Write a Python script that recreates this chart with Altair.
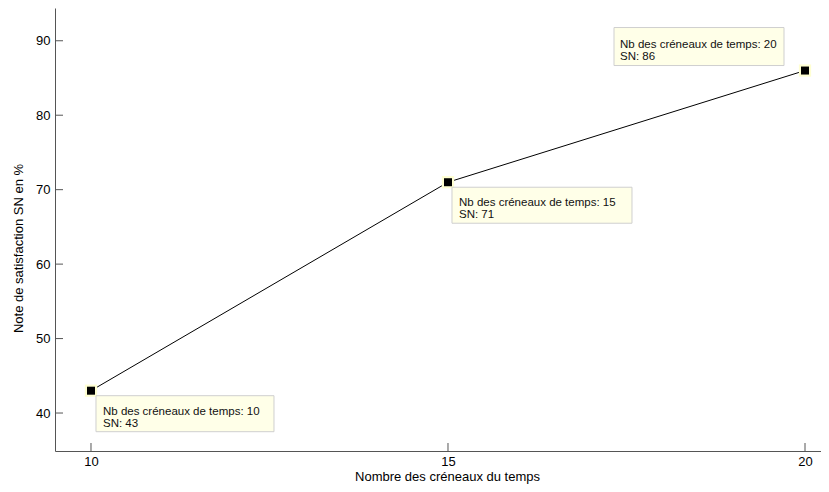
import altair as alt
import pandas as pd

# ---- data ----
slots = [10, 15, 20]          # Nombre des créneaux du temps
sn = [43, 71, 86]             # Note de satisfaction SN en %
x_ticks = [10, 15, 20]
y_ticks = [40, 50, 60, 70, 80, 90]
line1_prefix = "Nb des créneaux de temps: "
line2_prefix = "SN: "

W, H = 766, 443
FONT = "Liberation Sans"
AXIS_COLOR = "#555555"

df = pd.DataFrame({
    "x": slots,
    "y": sn,
    "label": [f"{line1_prefix}{s}\n{line2_prefix}{v}" for s, v in zip(slots, sn)],
})
xt = pd.DataFrame({"t": x_ticks})
yt = pd.DataFrame({"t": y_ticks})

xs = alt.Scale(domain=[9.496, 20.224], nice=False, zero=False)
ys = alt.Scale(domain=[34.9, 94.4], nice=False, zero=False)

X = alt.X("x:Q", scale=xs, axis=alt.Axis(
    title="Nombre des créneaux du temps", values=x_ticks, format="d",
    titleX=392, titleY=25, titleBaseline="middle"))
Y = alt.Y("y:Q", scale=ys, axis=alt.Axis(
    title="Note de satisfaction SN en %", values=y_ticks, format="d",
    titleX=-37, titleY=240, titleBaseline="middle", titleAngle=270))

base = alt.Chart(df)

line = base.mark_line(color="black", strokeWidth=1).encode(x=X, y=Y)
halo = base.mark_square(size=150, color="#FFFFD2", opacity=1).encode(x=X, y=Y)
pts = base.mark_square(size=64, color="black", opacity=1).encode(x=X, y=Y)

# annotation placement per point (pixel offsets from the point)
placements = {
    10: dict(bx=(5, 183), by=(5, 41), tx=12),
    15: dict(bx=(4, 184), by=(5, 41), tx=11),
    20: dict(bx=(-191, -21), by=(-43, -5), tx=-185),
}

ann_layers = []
for s, p in placements.items():
    sub = base.transform_filter(alt.datum.x == s)
    rect = sub.mark_rect(
        fill="#FFFFE8", stroke="#CFCFCF", strokeWidth=1,
        xOffset=p["bx"][0], x2Offset=p["bx"][1],
        yOffset=p["by"][0], y2Offset=p["by"][1],
    ).encode(
        x=alt.X("x:Q", scale=xs), x2="x:Q",
        y=alt.Y("y:Q", scale=ys), y2="y:Q",
    )
    cy = (p["by"][0] + p["by"][1]) / 2 - 2
    txt = sub.mark_text(
        align="left", baseline="middle", dx=p["tx"], dy=cy,
        lineBreak="\n", fontSize=11.5, lineHeight=12, font=FONT, color="#111111",
    ).encode(x=alt.X("x:Q", scale=xs), y=alt.Y("y:Q", scale=ys), text="label:N")
    ann_layers += [rect, txt]

xticks = alt.Chart(xt).mark_rule(color=AXIS_COLOR, strokeWidth=1).encode(
    x=alt.X("t:Q", scale=xs), y=alt.value(H), y2=alt.value(H - 8))
yticks = alt.Chart(yt).mark_rule(color=AXIS_COLOR, strokeWidth=1).encode(
    y=alt.Y("t:Q", scale=ys), x=alt.value(0), x2=alt.value(8))

chart = alt.layer(line, xticks, yticks, halo, pts, *ann_layers).properties(
    width=W, height=H,
    autosize=alt.AutoSizeParams(type="none"),
    padding={"left": 47, "top": 0, "right": 0, "bottom": 33},
).configure_view(stroke=None).configure_axis(
    grid=False, ticks=False, domainColor=AXIS_COLOR, domainWidth=1,
    labelFont=FONT, labelFontSize=13, labelColor="#000000",
    titleFont=FONT, titleFontSize=13, titleFontWeight="normal", titleColor="#000000",
).configure_axisX(labelPadding=4).configure_axisY(labelPadding=5)

chart.save("out.html", embed_options={"renderer": "svg", "actions": False})
